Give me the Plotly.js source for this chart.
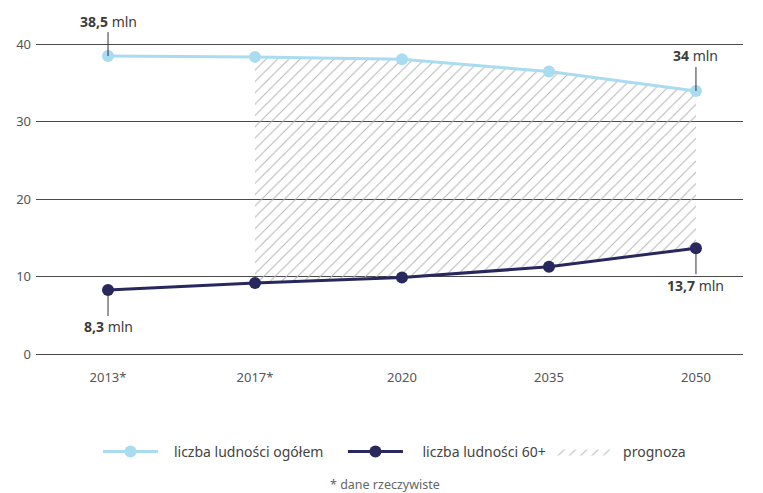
<!DOCTYPE html>
<html>
<head>
<meta charset="utf-8">
<script src="https://cdn.plot.ly/plotly-3.0.1.min.js"></script>
<style>html,body{margin:0;padding:0;background:#fff}#chart{width:763px;height:493px}</style>
</head>
<body>
<div id="chart"></div>
<script>
const categories = ["2013*", "2017*", "2020", "2035", "2050"];
const totalPop = [38.5, 38.4, 38.1, 36.5, 34.0];
const pop60 = [8.3, 9.2, 9.9, 11.3, 13.7];
const forecastFrom = 1; // index of first category covered by the hatched forecast area
const yTicks = [0, 10, 20, 30, 40];
const seriesNames = ["liczba ludności ogółem", "liczba ludności 60+", "prognoza"];
const labelTotalStart = "<b>38,5</b> mln";
const labelTotalEnd = "<b>34</b> mln";
const label60Start = "<b>8,3</b> mln";
const label60End = "<b>13,7</b> mln";
const footnote = "* dane rzeczywiste";

const idx = categories.map((c, i) => i);
const fIdx = idx.slice(forecastFrom);
const pad = n => "\u00a0".repeat(n);

const lightBlue = "#a9dcf0";
const navy = "#28285f";
const textCol = "#3c3c3c";

const data = [
  {x: fIdx, y: pop60.slice(forecastFrom), type: "scatter", mode: "lines", line: {width: 0, color: "rgba(0,0,0,0)"},
   showlegend: false, hoverinfo: "skip"},
  {x: fIdx, y: totalPop.slice(forecastFrom), type: "scatter", mode: "lines", line: {width: 0, color: "rgba(0,0,0,0)"},
   fill: "tonexty", name: pad(2) + seriesNames[2], fillcolor: "rgba(255,255,255,0)", legendrank: 3,
   fillpattern: {shape: "/", fgcolor: "#b4b4b4", bgcolor: "rgba(255,255,255,0)", size: 8, solidity: 0.12}},
  {x: idx, y: totalPop, type: "scatter", mode: "lines+markers", name: pad(3) + seriesNames[0] + pad(4), legendrank: 1,
   line: {color: lightBlue, width: 3}, marker: {color: lightBlue, size: 12}, cliponaxis: false},
  {x: idx, y: pop60, type: "scatter", mode: "lines+markers", name: pad(4) + seriesNames[1], legendrank: 2,
   line: {color: navy, width: 3}, marker: {color: navy, size: 12}, cliponaxis: false}
];

const annFont = {family: "Noto Sans, sans-serif", size: 14, color: textCol};
function ann(x, y, text, ay) {
  return {x: x, y: y, xref: "x", yref: "y", text: text, showarrow: true, arrowhead: 0,
          arrowwidth: 1, arrowcolor: "#333", ax: 0, ay: ay, font: annFont, standoff: 0};
}

const layout = {
  width: 763, height: 493,
  margin: {l: 36, r: 20, t: 28.5, b: 131.25},
  paper_bgcolor: "#fff", plot_bgcolor: "#fff",
  font: {family: "Noto Sans, sans-serif", color: textCol, size: 13},
  xaxis: {range: [-0.49, 4.32], tickvals: idx, ticktext: categories, showgrid: false, zeroline: false,
          showline: false, ticks: "", tickfont: {size: 13, color: "#555"}, ticklabelstandoff: 6, fixedrange: true},
  yaxis: {range: [-1, 42], tickvals: yTicks, showgrid: true, gridcolor: "#4a4a4a", gridwidth: 1, zeroline: false,
          showline: false, ticks: "", tickfont: {size: 13, color: "#555"}, ticklabelstandoff: 4, fixedrange: true},
  showlegend: true,
  legend: {orientation: "h", x: 98 / 763, xanchor: "left", xref: "container", y: 1 - 452/493, yref: "container",
           yanchor: "middle", itemwidth: 55, font: {size: 14, color: "#444"}, traceorder: "normal"},
  annotations: [
    ann(0, totalPop[0], labelTotalStart, -35),
    ann(4, totalPop[4], labelTotalEnd, -35),
    ann(0, pop60[0], label60Start, 37),
    ann(4, pop60[4], label60End, 37),
    {xref: "paper", yref: "paper", x: (385 - 36) / 707, y: (361.75 - 484) / 333.25, text: footnote, showarrow: false,
     font: {size: 12.5, color: "#666"}, xanchor: "center", yanchor: "middle"}
  ]
};

Plotly.newPlot("chart", data, layout, {staticPlot: true});
</script>
</body>
</html>
